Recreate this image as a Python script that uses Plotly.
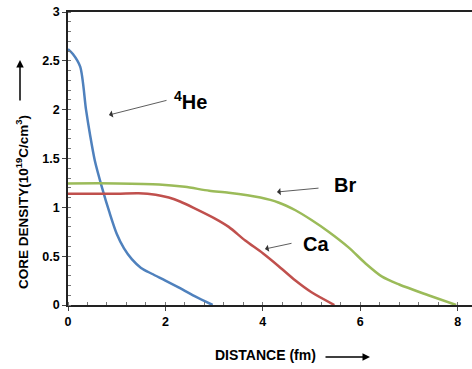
import plotly.graph_objects as go

# Data
he_x = [0, 0.1, 0.25, 0.37, 0.45, 0.55, 0.7, 0.85, 1.0, 1.15, 1.31, 1.5, 1.72, 2.0, 2.27, 2.6, 2.97]
he_y = [2.62, 2.57, 2.44, 2.0, 1.75, 1.48, 1.2, 0.95, 0.73, 0.58, 0.47, 0.38, 0.32, 0.25, 0.18, 0.09, 0.0]

ca_x = [0, 1.0, 1.45, 1.8, 2.07, 2.3, 2.6, 3.0, 3.3, 3.64, 4.0, 4.32, 4.67, 5.0, 5.47]
ca_y = [1.14, 1.14, 1.145, 1.13, 1.10, 1.06, 0.99, 0.89, 0.8, 0.66, 0.53, 0.4, 0.25, 0.13, 0.0]

br_x = [0, 1.0, 1.87, 2.4, 2.9, 3.3, 3.95, 4.32, 4.67, 5.0, 5.35, 5.76, 6.1, 6.45, 6.8, 7.4, 7.97]
br_y = [1.245, 1.245, 1.235, 1.21, 1.17, 1.15, 1.10, 1.05, 0.97, 0.87, 0.75, 0.59, 0.43, 0.29, 0.21, 0.10, 0.0]

labels = ["<sup>4</sup>He", "Br", "Ca"]

FONT = "Liberation Sans, Arial, sans-serif"

# plot area in pixels: x 68..472, y 12..305
L, R, T, B = 68, 472, 12, 305
def px(p):
    return (p - L) / (R - L)
def py(p):
    return (B - p) / (B - T)

fig = go.Figure()
fig.add_trace(go.Scatter(x=he_x, y=he_y, mode="lines", line=dict(color="#4F81BD", width=2.5, shape="spline", smoothing=0.8)))
fig.add_trace(go.Scatter(x=ca_x, y=ca_y, mode="lines", line=dict(color="#C0504D", width=2.5, shape="spline", smoothing=0.8)))
fig.add_trace(go.Scatter(x=br_x, y=br_y, mode="lines", line=dict(color="#9BBB59", width=2.5, shape="spline", smoothing=0.8)))

ann_font = dict(family=FONT, size=20, color="black")
arrow_style = dict(showarrow=True, arrowhead=1, arrowsize=1.5, arrowwidth=0.8, arrowcolor="#333333", text="")
# 4He
fig.add_annotation(xref="paper", yref="paper", x=px(109), y=py(115), ax=59, ay=-15, **arrow_style)
fig.add_annotation(xref="paper", yref="paper", x=px(190), y=py(101), text="<b>" + labels[0] + "</b>",
                   showarrow=False, font=ann_font, xanchor="center", yanchor="middle")
# Br
fig.add_annotation(xref="paper", yref="paper", x=px(277), y=py(192), ax=43, ay=-4, **arrow_style)
fig.add_annotation(xref="paper", yref="paper", x=px(345), y=py(185), text="<b>" + labels[1] + "</b>",
                   showarrow=False, font=ann_font, xanchor="center", yanchor="middle")
# Ca
fig.add_annotation(xref="paper", yref="paper", x=px(265), y=py(249), ax=28, ay=-6, **arrow_style)
fig.add_annotation(xref="paper", yref="paper", x=px(316), y=py(244), text="<b>" + labels[2] + "</b>",
                   showarrow=False, font=ann_font, xanchor="center", yanchor="middle")

# Axis titles as annotations
fig.add_annotation(xref="paper", yref="paper", x=px(22), y=py(202), textangle=-90,
                   text="<b>CORE DENSITY(10<sup>19</sup>C/cm<sup>3</sup>)</b>", showarrow=False,
                   font=dict(family=FONT, size=13.5, color="black"), xanchor="center", yanchor="middle")
fig.add_annotation(xref="paper", yref="paper", x=px(265), y=py(355),
                   text="<b>DISTANCE (fm)</b>", showarrow=False,
                   font=dict(family=FONT, size=14, color="black"), xanchor="center", yanchor="middle")
# Axis-title arrows
fig.add_annotation(xref="paper", yref="paper", x=px(20), y=py(60), ax=0, ay=42, text="", showarrow=True,
                   arrowhead=2, arrowsize=1, arrowwidth=1.5, arrowcolor="black")
fig.add_annotation(xref="paper", yref="paper", x=px(370), y=py(357), ax=-46, ay=0, text="", showarrow=True,
                   arrowhead=2, arrowsize=1, arrowwidth=1.5, arrowcolor="black")

fig.update_layout(
    width=472, height=369,
    margin=dict(l=L, r=472 - R, t=T, b=369 - B, autoexpand=False),
    paper_bgcolor="white", plot_bgcolor="white",
    showlegend=False,
    font=dict(family=FONT, size=12, color="black"),
    xaxis=dict(
        range=[0, (R - L) / 48.7], dtick=2, tick0=0, showgrid=False, zeroline=False,
        showline=True, linecolor="#222222", linewidth=1.5, mirror=True,
        ticks="outside", ticklen=4, tickcolor="#444444", automargin=False,
        tickfont=dict(family=FONT, size=12.5, color="black", weight="bold"),
        minor=dict(dtick=0.4, ticks="inside", ticklen=3, tickcolor="#777777"),
    ),
    yaxis=dict(
        range=[0, 3], dtick=0.5, showgrid=False, zeroline=False,
        showline=True, linecolor="#222222", linewidth=1.5,
        ticks="outside", ticklen=4, tickcolor="#444444", automargin=False,
        tickfont=dict(family=FONT, size=12.5, color="black", weight="bold"),
        minor=dict(dtick=0.1, ticks="inside", ticklen=3, tickcolor="#777777"),
    ),
)

fig.write_html("out.html", config={"displayModeBar": False},
               post_script="document.body.style.margin='0';document.body.style.overflow='hidden';")
